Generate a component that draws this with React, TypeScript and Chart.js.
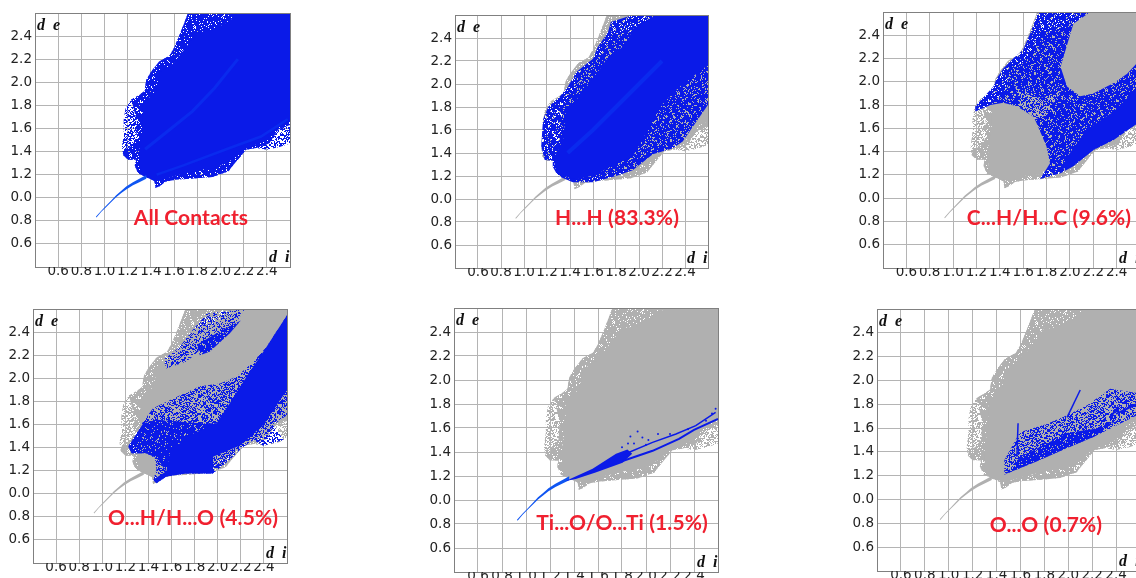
import React, { useEffect, useRef } from "react";
import { Chart, registerables } from "chart.js";

Chart.register(...registerables);

type P = [number, number];

const tickValues = [0.4, 0.6, 0.8, 1.0, 1.2, 1.4, 1.6, 1.8, 2.0, 2.2, 2.4, 2.6];
const xTickLabels = ["", "0.6", "0.8", "1.0", "1.2", "1.4", "1.6", "1.8", "2.0", "2.2", "2.4", ""];
const yTickLabels = ["", "0.6", "0.8", "0.0", "1.2", "1.4", "1.6", "1.8", "2.0", "2.2", "2.4", ""];

const tail: P[] = [[0.925,0.835],[0.972,0.888],[1.015,0.932],[1.058,0.977],[1.10,1.022],[1.145,1.06],[1.187,1.097],[1.245,1.135],[1.30,1.165],[1.36,1.197],[1.36,1.165],[1.30,1.135],[1.245,1.108],[1.187,1.072],[1.145,1.04],[1.10,1.004],[1.058,0.963],[1.015,0.92],[0.972,0.878],[0.93,0.828]];
const envelope: P[] = [[1.36,1.18],[1.29,1.21],[1.26,1.28],[1.27,1.33],[1.20,1.33],[1.16,1.37],[1.15,1.44],[1.165,1.56],[1.165,1.67],[1.18,1.77],[1.23,1.85],[1.30,1.89],[1.345,1.925],[1.36,2.02],[1.40,2.09],[1.47,2.18],[1.56,2.23],[1.60,2.30],[1.645,2.405],[1.69,2.52],[1.72,2.6],[2.6,2.6],[2.6,1.47],[2.51,1.44],[2.40,1.415],[2.31,1.43],[2.22,1.415],[2.175,1.36],[2.10,1.27],[2.07,1.23],[1.93,1.18],[1.82,1.17],[1.615,1.155],[1.53,1.14],[1.475,1.10],[1.44,1.085],[1.43,1.145]];
const shell: P[] = [[1.36,1.18],[1.29,1.21],[1.26,1.28],[1.27,1.33],[1.20,1.33],[1.16,1.37],[1.17,1.42],[1.22,1.44],[1.27,1.5],[1.28,1.65],[1.25,1.78],[1.23,1.85],[1.30,1.89],[1.345,1.925],[1.36,2.02],[1.40,2.09],[1.47,2.18],[1.56,2.23],[1.60,2.30],[1.645,2.405],[1.69,2.52],[1.72,2.6],[2.6,2.6],[2.6,1.63],[2.5,1.59],[2.42,1.47],[2.31,1.43],[2.22,1.415],[2.175,1.36],[2.10,1.27],[2.07,1.23],[1.93,1.18],[1.82,1.17],[1.615,1.155],[1.53,1.14],[1.475,1.10],[1.44,1.085],[1.43,1.145]];
const core: P[] = [[1.33,1.20],[1.30,1.27],[1.30,1.44],[1.33,1.61],[1.33,1.81],[1.445,1.93],[1.475,2.09],[1.59,2.16],[1.645,2.23],[1.745,2.36],[1.79,2.43],[1.93,2.45],[2.075,2.53],[2.16,2.6],[2.6,2.6],[2.6,1.67],[2.49,1.63],[2.40,1.5],[2.31,1.46],[2.20,1.415],[2.10,1.33],[1.96,1.26],[1.82,1.24],[1.615,1.19],[1.475,1.145],[1.36,1.175]];
const allStreakA: P[] = [[1.35,1.42],[1.55,1.58],[1.76,1.75],[1.95,1.95],[2.15,2.2]];
const allStreakB: P[] = [[1.45,1.2],[1.68,1.28],[2.05,1.42],[2.35,1.53],[2.58,1.68]];

const hhDots: P[] = [[1.25,1.28],[1.295,1.20],[1.425,1.145],[1.60,1.145],[1.80,1.20],[1.945,1.25],[2.12,1.39],[2.29,1.44],[2.38,1.50],[2.6,1.82],[2.6,2.6],[2.12,2.6],[1.945,2.6],[1.755,2.54],[1.73,2.45],[1.64,2.32],[1.60,2.22],[1.455,2.105],[1.38,1.975],[1.31,1.89],[1.21,1.80],[1.165,1.69],[1.15,1.46],[1.18,1.34],[1.25,1.335]];
const hhSolid: P[] = [[1.265,1.28],[1.31,1.21],[1.455,1.17],[1.63,1.21],[1.80,1.31],[1.945,1.37],[2.06,1.57],[2.18,1.80],[2.35,1.975],[2.6,2.165],[2.6,2.6],[2.15,2.6],[1.945,2.48],[1.89,2.35],[1.715,2.21],[1.63,2.09],[1.48,1.89],[1.365,1.775],[1.34,1.515],[1.265,1.37]];
const hhStreak: P[] = [[1.38,1.4],[1.6,1.6],[1.8,1.8],[2.0,2.0],[2.2,2.2]];

const chDots: P[] = [[1.19,1.745],[1.19,1.79],[1.345,1.96],[1.375,2.03],[1.43,2.115],[1.515,2.20],[1.60,2.275],[1.66,2.415],[1.73,2.6],[2.175,2.6],[2.03,2.50],[1.92,2.13],[1.975,1.96],[2.09,1.875],[2.20,1.90],[2.375,1.99],[2.49,2.07],[2.6,2.19],[2.6,1.66],[2.375,1.50],[2.20,1.415],[2.03,1.275],[1.92,1.215],[1.745,1.165],[1.83,1.30],[1.80,1.445],[1.715,1.645],[1.69,1.70],[1.545,1.79],[1.43,1.82],[1.32,1.80]];
const chSolid: P[] = [[1.92,1.245],[1.99,1.375],[2.145,1.59],[2.375,1.745],[2.6,1.97],[2.6,1.66],[2.375,1.51],[2.20,1.415],[2.03,1.28]];
const chArc: P[] = [[1.52,2.0],[1.6,1.9],[1.75,1.86],[1.88,1.9],[1.95,1.96],[1.88,1.85],[1.77,1.7],[1.71,1.68],[1.58,1.78]];

const ohDots: P[] = [[1.225,1.41],[1.355,1.625],[1.44,1.74],[1.615,1.825],[1.845,1.93],[2.02,1.955],[2.165,2.015],[2.31,2.145],[2.425,2.275],[2.6,2.545],[2.6,1.68],[2.48,1.595],[2.57,1.465],[2.395,1.415],[2.31,1.465],[2.21,1.395],[2.105,1.295],[1.96,1.175],[1.73,1.175],[1.555,1.15],[1.47,1.09],[1.44,1.12],[1.47,1.21],[1.455,1.31],[1.38,1.35],[1.255,1.35]];
const ohMid: P[] = [[1.225,1.41],[1.355,1.61],[1.47,1.64],[1.845,1.61],[1.99,1.61],[1.905,1.175],[1.555,1.19],[1.47,1.31],[1.38,1.35],[1.255,1.35]];
const ohSolid: P[] = [[1.47,1.09],[1.44,1.12],[1.555,1.195],[1.585,1.35],[1.73,1.495],[1.99,1.61],[2.105,1.785],[2.25,2.015],[2.425,2.275],[2.6,2.545],[2.6,1.90],[2.395,1.595],[2.19,1.415],[1.96,1.32],[1.96,1.175],[1.73,1.175],[1.555,1.15]];
const ohUpper: P[] = [[1.53,2.16],[1.67,2.27],[1.785,2.42],[1.905,2.56],[2.235,2.6],[2.135,2.445],[1.905,2.29],[1.73,2.145],[1.555,2.085]];
const ohUpperDense: P[] = [[1.82,2.29],[1.99,2.39],[2.2,2.5],[2.105,2.39],[1.93,2.23],[1.845,2.2]];

const toWedge: P[] = [[1.33,1.158],[1.555,1.26],[1.75,1.385],[1.845,1.42],[1.885,1.385],[1.805,1.31],[1.58,1.23],[1.415,1.175]];
const toStreakA: P[] = [[1.805,1.325],[2.055,1.41],[2.275,1.51],[2.40,1.585],[2.6,1.675]];
const toStreakB: P[] = [[1.83,1.385],[2.055,1.48],[2.25,1.55],[2.415,1.62],[2.58,1.73]];
const toScatter: P[] = [[1.87,1.53],[1.93,1.57],[1.97,1.52],[2.02,1.50],[2.1,1.55],[2.2,1.55],[2.35,1.59],[2.5,1.66],[2.55,1.72],[2.58,1.76],[1.9,1.47],[1.85,1.47],[1.8,1.44],[2.0,1.46]];

const ooSparse: P[] = [[1.47,1.21],[1.465,1.33],[1.595,1.565],[1.82,1.635],[1.985,1.705],[2.155,1.79],[2.35,1.93],[2.6,1.89],[2.6,1.72],[2.21,1.525],[1.995,1.435]];
const ooDense: P[] = [[1.475,1.215],[1.60,1.36],[1.82,1.47],[1.995,1.56],[2.2,1.59],[2.4,1.66],[2.21,1.525],[1.995,1.435],[1.735,1.32]];
const ooSpikeA: P[] = [[1.57,1.36],[1.58,1.64]];
const ooSpikeB: P[] = [[1.99,1.69],[2.10,1.92]];
const ooSpikeC: P[] = [[2.35,1.69],[2.42,1.78]];
const ooRing: P[] = [[2.4,1.72],[2.57,1.80]];

const BLUE = "#0a1ae8";
const BRIGHT = "#0f55f2";
const STREAK = "#0a2aee";
const GRAY = "#b0b0b0";

const denseTile = [
  "##.#####.###.###","#####.####.#####",".####.###.######","###.######.###.#",
  "#.#####.######.#","#####.###.#.####","##.#.######.####","#######.####.##.",
  "#.####.##.######","####.#####.##.##",".#.#######.#####","#####.##.####.##",
  "##.#####.###.###","###.#####.#.####",".#####.#.#######","#####.#######.##",
];
const sparseTile = [
  "#..#.##..#.#..#.",".#..#..#...##..#","..##.#...#.#.#..","#...#..##..#..#.",
  ".#.#..#..#...#.#","#..#.#..#.##....","..#...##...#.#.#",".#.##..#.#...#..",
  "#....#..#.#.#..#","..#.#.#...#..#..",".#..#..##..#...#","#.#...#...#.#.#.",
  "..#.##..#.#...#.",".#....#.#..##..#","#..#.#...#...#..","..#..#.#..#.#.#.",
];
const midTile = sparseTile.map((r, y) =>
  [...r].map((c, x) => (c === "#" || (sparseTile[(y + 5) % 16][(x + 7) % 16] === "#" && (x + y) % 3 === 0) ? "#" : ".")).join("")
);

// A fill style: the hand-written tile is shuffled into a larger one so that it does not read as a hatch.
function pattern(color: string, tile: string[]) {
  const size = 64;
  const c = document.createElement("canvas");
  c.width = size; c.height = size;
  const g = c.getContext("2d")!;
  g.fillStyle = color;
  for (let y = 0; y < size; y++) {
    for (let x = 0; x < size; x++) {
      const ch = tile[(y * y * 3 + x * 5 + (x >> 2)) % 16][(x * x * 7 + y * 3 + (y >> 3)) % 16];
      if (ch === "#") g.fillRect(x, y, 1, 1);
    }
  }
  return g.createPattern(c, "repeat")!;
}

const poly = (pts: P[], fill: any) => ({ kind: "poly", pts, fill });
const line = (pts: P[], color: string, width: number) => ({ kind: "line", pts, color, width });
const dots = (pts: P[], color: string, radius: number) => ({ kind: "dots", pts, color, radius });

function grayBase(tailColor: string) {
  return [poly(envelope, pattern(GRAY, midTile)), poly(shell, pattern(GRAY, denseTile)), poly(core, GRAY), poly(tail, tailColor)];
}

const panels = [
  { L: 35, T: 13, W: 255, H: 254, text: "All Contacts", tx: 191, ty: 216, fs: 21,
    layers: () => [poly(envelope, pattern(BLUE, midTile)), poly(shell, pattern(BLUE, denseTile)), poly(core, BLUE), poly(tail, BRIGHT), line(allStreakA, STREAK, 3), line(allStreakB, STREAK, 2.5)] },
  { L: 455, T: 15, W: 253, H: 253, text: "H...H (83.3%)", tx: 617, ty: 216, fs: 21,
    layers: () => [...grayBase(GRAY), poly(hhDots, pattern(BLUE, denseTile)), poly(hhSolid, BLUE), line(hhStreak, STREAK, 4)] },
  { L: 883, T: 12, W: 257, H: 256, text: "C...H/H...C (9.6%)", tx: 1049, ty: 216, fs: 21,
    layers: () => [...grayBase(GRAY), poly(chDots, pattern(BLUE, denseTile)), poly(chArc, pattern(GRAY, sparseTile)), poly(chSolid, BLUE)] },
  { L: 33, T: 309, W: 254, H: 254, text: "O...H/H...O (4.5%)", tx: 193, ty: 516, fs: 21,
    layers: () => [...grayBase(GRAY), poly(ohDots, pattern(BLUE, midTile)), poly(ohMid, pattern(BLUE, denseTile)), poly(ohSolid, BLUE), poly(ohUpper, pattern(BLUE, sparseTile)), poly(ohUpperDense, pattern(BLUE, denseTile))] },
  { L: 454, T: 308, W: 264, H: 264, text: "Ti...O/O...Ti (1.5%)", tx: 622, ty: 521, fs: 21,
    layers: () => [...grayBase(BRIGHT), poly(toWedge, BLUE), line(toStreakA, BLUE, 2), line(toStreakB, BLUE, 1.5), dots(toScatter, BLUE, 1)] },
  { L: 877, T: 309, W: 263, H: 262, text: "O...O (0.7%)", tx: 1046, ty: 523, fs: 21,
    layers: () => [...grayBase(GRAY), poly(ooSparse, pattern(BLUE, midTile)), poly(ooDense, pattern(BLUE, denseTile)), line(ooSpikeA, BLUE, 1.5), line(ooSpikeB, BLUE, 1.5), line(ooSpikeC, BLUE, 2), line(ooRing, BLUE, 2)] },
];

const AXIS_W = 35, AXIS_H = 16, PAD_TOP = 6, PAD_RIGHT = 6;

const frame = {
  id: "frame",
  afterDatasetsDraw(chart: any) {
    const { ctx, chartArea: a } = chart;
    ctx.save();
    ctx.strokeStyle = "#808080";
    ctx.lineWidth = 1;
    ctx.strokeRect(a.left + 0.5, a.top + 0.5, a.right - a.left, a.bottom - a.top);
    ctx.restore();
  },
};

function noPadding(s: any) {
  s.paddingTop = 0; s.paddingBottom = 0; s.paddingLeft = 0; s.paddingRight = 0;
}

function Panel({ p }: { p: (typeof panels)[number] }) {
  const ref = useRef<HTMLCanvasElement>(null);
  useEffect(() => {
    const layers: any[] = p.layers();
    const n = layers.length;
    const datasets = layers.map((l, i) => {
      const data = l.pts.map(([x, y]: P) => ({ x, y }));
      const base = { data, order: n - i, tension: 0 };
      if (l.kind === "poly") return { ...base, showLine: true, fill: "shape", backgroundColor: l.fill, borderWidth: 0, pointRadius: 0 };
      if (l.kind === "line") return { ...base, showLine: true, fill: false, borderColor: l.color, borderWidth: l.width, pointRadius: 0 };
      return { ...base, showLine: false, backgroundColor: l.color, pointRadius: l.radius, borderWidth: 0 };
    });
    const scale = (labels: string[], extra: any) => ({
      type: "linear", min: 0.4, max: 2.6,
      afterBuildTicks: (s: any) => { s.ticks = tickValues.map((value) => ({ value })); },
      grid: { color: "#b4b4b4", lineWidth: 1, drawTicks: false },
      border: { color: "#808080" },
      ...extra,
      ticks: {
        autoSkip: false, maxRotation: 0, color: "#222", z: 1,
        font: { family: "'DejaVu Sans', sans-serif", size: 13.5 },
        callback: (v: number) => labels[tickValues.findIndex((t) => Math.abs(t - v) < 1e-6)] ?? "",
        ...extra.ticks,
      },
    });
    const chart = new Chart(ref.current!, {
      type: "scatter",
      data: { datasets },
      plugins: [frame],
      options: {
        responsive: false, animation: false,
        layout: { padding: { top: PAD_TOP, right: PAD_RIGHT, left: 0, bottom: 0 } },
        plugins: { legend: { display: false }, tooltip: { enabled: false } },
        scales: {
          x: scale(xTickLabels, { afterFit: (s: any) => { s.height = AXIS_H; noPadding(s); }, ticks: { padding: -4 } }),
          y: scale(yTickLabels, { afterFit: (s: any) => { s.width = AXIS_W; noPadding(s); }, ticks: { padding: 3 } }),
        },
      },
    } as any);
    return () => chart.destroy();
  }, [p]);
  const serif: React.CSSProperties = { position: "absolute", font: "italic bold 16px 'Liberation Serif', serif", color: "#111", whiteSpace: "pre", lineHeight: "16px" };
  return (
    <>
      <canvas ref={ref} width={p.W + AXIS_W + PAD_RIGHT} height={p.H + AXIS_H + PAD_TOP}
        style={{ position: "absolute", left: p.L - AXIS_W, top: p.T - PAD_TOP, display: "block" }} />
      <span style={{ ...serif, left: p.L + 2, top: p.T + 4 }}>d  e</span>
      <span style={{ ...serif, left: p.L + p.W - 21, top: p.T + p.H - 18 }}>d  i</span>
      <span style={{ position: "absolute", left: p.tx, top: p.ty, transform: "translate(-50%,-50%)", font: `bold ${p.fs}px Lato, sans-serif`, letterSpacing: "0.1px", fontVariantLigatures: "none", color: "#f0202f", whiteSpace: "nowrap" }}>{p.text}</span>
    </>
  );
}

export default function App() {
  return (
    <div style={{ position: "fixed", left: 0, top: 0, width: 1136, height: 578, overflow: "hidden", background: "#fff" }}>
      {panels.map((p, i) => <Panel key={i} p={p} />)}
    </div>
  );
}
